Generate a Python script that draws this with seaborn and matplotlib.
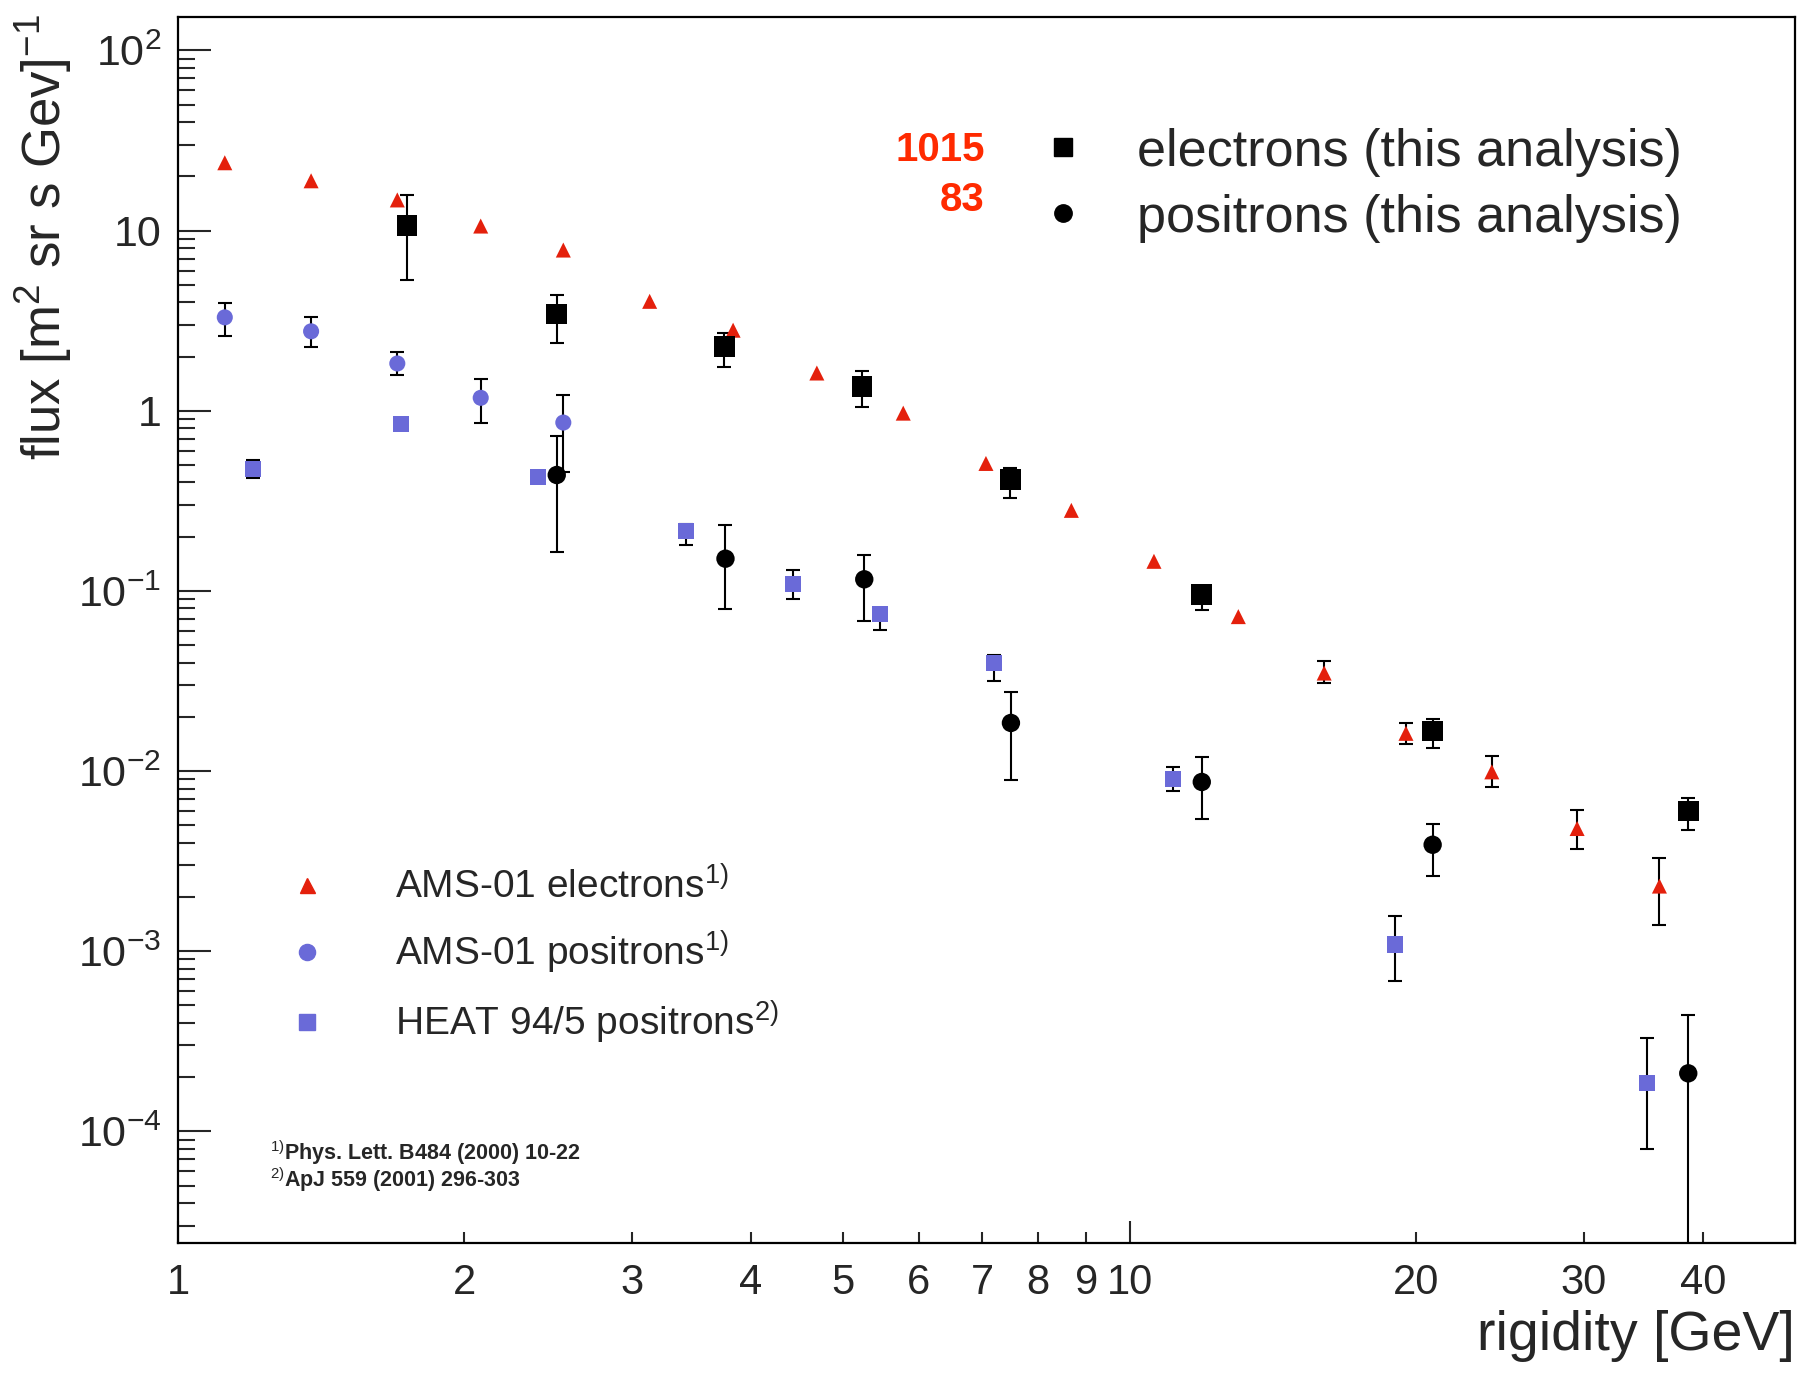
import numpy as np
import seaborn as sns
import matplotlib
matplotlib.use("Agg")
import matplotlib.pyplot as plt
from matplotlib.lines import Line2D
from matplotlib.ticker import FixedLocator, FuncFormatter, LogLocator

# AMS-01 electrons (red triangles) with lower / upper error bounds
ams_e_x = [1.12, 1.38, 1.70, 2.08, 2.54, 3.13, 3.83, 4.69, 5.78, 7.06, 8.68,
           10.6, 13.0, 16.0, 19.5, 24.0, 29.5, 36.0]
ams_e_y = [23.8, 18.9, 14.8, 10.6, 7.8, 4.05, 2.8, 1.62, 0.97, 0.51, 0.28,
           0.146, 0.072, 0.035, 0.0162, 0.0099, 0.0048, 0.0023]
ams_e_lo = [23.8, 18.9, 14.8, 10.6, 7.8, 4.05, 2.8, 1.62, 0.97, 0.51, 0.28,
            0.146, 0.072, 0.031, 0.0142, 0.0082, 0.0037, 0.0014]
ams_e_hi = [23.8, 18.9, 14.8, 10.6, 7.8, 4.05, 2.8, 1.62, 0.97, 0.51, 0.28,
            0.146, 0.072, 0.041, 0.0185, 0.0122, 0.0061, 0.0033]

# AMS-01 positrons (blue circles)
ams_p_x = [1.12, 1.38, 1.70, 2.08, 2.54]
ams_p_y = [3.3, 2.76, 1.83, 1.18, 0.86]
ams_p_lo = [2.6, 2.26, 1.57, 0.85, 0.46]
ams_p_hi = [3.98, 3.33, 2.12, 1.5, 1.23]

# HEAT 94/5 positrons (blue squares)
heat_x = [1.20, 1.715, 2.39, 3.42, 4.43, 5.47, 7.2, 11.1, 19.0, 34.9]
heat_y = [0.476, 0.84, 0.43, 0.214, 0.109, 0.0746, 0.0397, 0.0090, 0.00109, 1.85e-4]
heat_lo = [0.424, 0.84, 0.43, 0.18, 0.090, 0.0607, 0.0317, 0.0078, 6.8e-4, 8e-5]
heat_hi = [0.535, 0.84, 0.43, 0.235, 0.13, 0.08, 0.0441, 0.0105, 0.00157, 3.3e-4]

# electrons, this analysis (black squares)
ele_x = [1.74, 2.50, 3.75, 5.23, 7.49, 11.9, 20.8, 38.6]
ele_y = [10.7, 3.44, 2.28, 1.36, 0.415, 0.0957, 0.0167, 0.006]
ele_lo = [5.3, 2.38, 1.76, 1.045, 0.328, 0.078, 0.0134, 0.0047]
ele_hi = [15.8, 4.4, 2.69, 1.67, 0.48, 0.106, 0.0194, 0.0071]

# positrons, this analysis (black circles)
pos_x = [2.50, 3.76, 5.26, 7.50, 11.9, 20.8, 38.6]
pos_y = [0.44, 0.151, 0.116, 0.0185, 0.0087, 0.0039, 2.1e-4]
pos_lo = [0.165, 0.079, 0.068, 0.0089, 0.0054, 0.0026, 1e-7]
pos_hi = [0.72, 0.231, 0.158, 0.0275, 0.0119, 0.0051, 4.4e-4]

x_minor_ticks = [2, 3, 4, 5, 6, 7, 8, 9, 20, 30, 40]
x_major_ticks = [1, 10]
y_major_ticks = [1e-4, 1e-3, 1e-2, 1e-1, 1, 10, 100]

RED = "#e4200c"
BLUE = "#6a6ad8"
NUM_RED = "#ff2a00"

sns.set_style("ticks")
plt.rcParams["font.family"] = ["Liberation Sans", "DejaVu Sans"]
plt.rcParams["mathtext.fontset"] = "custom"
plt.rcParams["mathtext.rm"] = "Liberation Sans"
plt.rcParams["mathtext.it"] = "Liberation Sans:italic"
plt.rcParams["mathtext.bf"] = "Liberation Sans:bold"

fig = plt.figure(figsize=(18.01, 13.74), dpi=100)
ax = fig.add_axes([0.0988, 0.0953, 0.898, 0.8922])


def draw_errors(x, y, lo, hi):
    x = np.asarray(x); y = np.asarray(y)
    lo = np.asarray(lo); hi = np.asarray(hi)
    keep = hi > lo
    ax.errorbar(x[keep], y[keep], yerr=[y[keep] - lo[keep], hi[keep] - y[keep]],
                fmt="none", ecolor="black", elinewidth=1.5, capsize=5,
                capthick=1.5, zorder=2)


draw_errors(ams_e_x, ams_e_y, ams_e_lo, ams_e_hi)
draw_errors(ams_p_x, ams_p_y, ams_p_lo, ams_p_hi)
draw_errors(heat_x, heat_y, heat_lo, heat_hi)
draw_errors(ele_x, ele_y, ele_lo, ele_hi)
draw_errors(pos_x, pos_y, pos_lo, pos_hi)

sns.scatterplot(x=ams_e_x, y=ams_e_y, marker="^", s=117, color=RED,
                edgecolor="none", linewidth=0, ax=ax, zorder=3, legend=False)
sns.scatterplot(x=ams_p_x, y=ams_p_y, marker="o", s=134, color=BLUE,
                edgecolor="none", linewidth=0, ax=ax, zorder=3, legend=False)
sns.scatterplot(x=heat_x, y=heat_y, marker="s", s=134, color=BLUE,
                edgecolor="none", linewidth=0, ax=ax, zorder=3, legend=False)
sns.scatterplot(x=ele_x, y=ele_y, marker="s", s=222, color="black",
                edgecolor="none", linewidth=0, ax=ax, zorder=4, legend=False)
sns.scatterplot(x=pos_x, y=pos_y, marker="o", s=175, color="black",
                edgecolor="none", linewidth=0, ax=ax, zorder=4, legend=False)

# axes, ROOT style
ax.set_xscale("log")
ax.set_yscale("log")
ax.set_xlim(1, 50)
ax.set_ylim(2.4e-5, 153)

ax.xaxis.set_major_locator(FixedLocator(x_major_ticks))
ax.xaxis.set_minor_locator(FixedLocator(x_minor_ticks))
tick_fmt = FuncFormatter(lambda v, p: f"{v:g}")
ax.xaxis.set_major_formatter(tick_fmt)
ax.xaxis.set_minor_formatter(tick_fmt)


def y_fmt(v, p):
    n = int(round(np.log10(v)))
    if n == 0:
        return "1"
    if n == 1:
        return "10"
    return r"$10^{%d}$" % n


ax.yaxis.set_major_locator(FixedLocator(y_major_ticks))
ax.yaxis.set_minor_locator(LogLocator(base=10, subs=np.arange(2, 10), numticks=100))
ax.yaxis.set_major_formatter(FuncFormatter(y_fmt))

ax.tick_params(axis="y", which="major", direction="in", length=24, width=1.5,
               labelsize=31, pad=12, right=False)
ax.tick_params(axis="y", which="minor", direction="in", length=12, width=1.5,
               right=False)
ax.tick_params(axis="x", which="both", direction="in", width=1.5,
               labelsize=30, pad=14, top=False)
ax.tick_params(axis="x", which="major", length=16)
ax.tick_params(axis="x", which="minor", length=8)

for sp in ax.spines.values():
    sp.set_visible(True)
    sp.set_linewidth(1.6)
    sp.set_color("black")

ax.set_xlabel("rigidity [GeV]", fontsize=40, loc="right")
ax.xaxis.set_label_coords(1.0, -0.076)
ax.xaxis.label.set_verticalalignment("center")
ax.set_ylabel(r"flux [m$^{2}$ sr s Gev]$^{-1}$", fontsize=38, loc="top")
ax.yaxis.set_label_coords(-0.083, 1.003)
ax.yaxis.label.set_verticalalignment("center")

# top-right legend (this analysis)
top_handles = [
    Line2D([], [], marker="s", color="black", linestyle="none", markersize=12.5),
    Line2D([], [], marker="o", color="black", linestyle="none", markersize=12.5),
]
leg1 = ax.legend(top_handles, ["electrons (this analysis)", "positrons (this analysis)"],
                 loc="upper left", bbox_to_anchor=(0.531, 0.910), frameon=False,
                 fontsize=37.5, handlelength=1.0, handletextpad=0.93,
                 borderpad=0, borderaxespad=0, labelspacing=0.33)
ax.add_artist(leg1)
ax.text(0.499, 0.892, "1015", transform=ax.transAxes, ha="right", va="center",
        color=NUM_RED, fontweight="bold", fontsize=29)
ax.text(0.499, 0.851, "83", transform=ax.transAxes, ha="right", va="center",
        color=NUM_RED, fontweight="bold", fontsize=29)

# lower-left legend (previous measurements)
ref_handles = [
    Line2D([], [], marker="^", color=RED, linestyle="none", markersize=10.8),
    Line2D([], [], marker="o", color=BLUE, linestyle="none", markersize=11.6),
    Line2D([], [], marker="s", color=BLUE, linestyle="none", markersize=11.6),
]
ref_labels = [r"AMS-01 electrons$^{1)}$", r"AMS-01 positrons$^{1)}$",
              r"HEAT 94/5 positrons$^{2)}$"]
ax.legend(ref_handles, ref_labels, loc="upper left", bbox_to_anchor=(0.0675, 0.3067),
          frameon=False, fontsize=28, handlelength=1.0, handletextpad=1.77,
          borderpad=0, borderaxespad=0, labelspacing=0.59)

ax.text(0.057, 0.0736, r"$^{1)}$Phys. Lett. B484 (2000) 10-22", transform=ax.transAxes,
        ha="left", va="center", fontsize=15.5, fontweight="bold")
ax.text(0.057, 0.0515, r"$^{2)}$ApJ 559 (2001) 296-303", transform=ax.transAxes,
        ha="left", va="center", fontsize=15.5, fontweight="bold")

fig.savefig("out.png", dpi=100, facecolor="white")
